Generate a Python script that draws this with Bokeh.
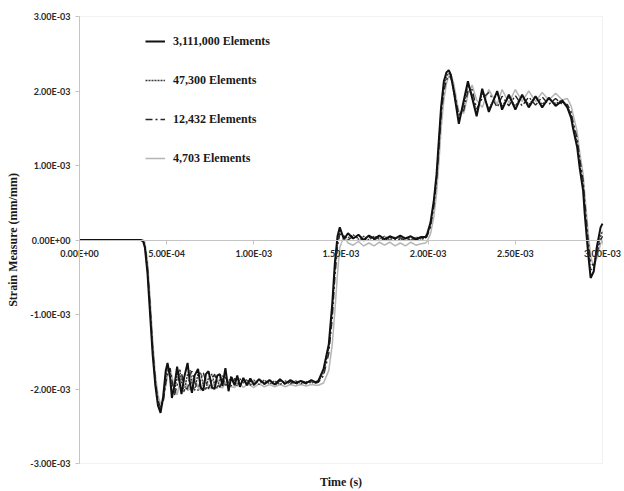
import numpy as np
from bokeh.plotting import figure
from bokeh.models import (Range1d, FixedTicker, CustomJSTickFormatter, Legend, LegendItem,
                          Label, BoxAnnotation)
from bokeh.embed import file_html
from bokeh.resources import INLINE

TIME_UNIT = 1e-4     # time values below are in units of 1e-4 s
STRAIN_UNIT = 1e-3   # strain values below are in units of 1e-3 mm/mm

time_e4 = [0, 1, 2, 3, 3.5, 3.65, 3.75, 3.9, 4.05, 4.2,
           4.35, 4.5, 4.65, 4.8, 4.95, 5.05, 5.2, 5.3, 5.45, 5.6,
           5.75, 5.85, 6.0, 6.2, 6.35, 6.45, 6.6, 6.8, 6.95, 7.1,
           7.25, 7.4, 7.6, 7.75, 7.9, 8.05, 8.2, 8.37, 8.55, 8.7,
           8.9, 9.05, 9.2, 9.4, 9.6, 9.8, 10.0, 10.3, 10.6, 10.9,
           11.2, 11.5, 11.8, 12.1, 12.4, 12.7, 13.0, 13.3, 13.55, 13.7,
           14.0, 14.3, 14.5, 14.65, 14.8, 14.93, 15.17, 15.4, 15.7, 16.0,
           16.3, 16.6, 16.9, 17.2, 17.5, 17.8, 18.1, 18.4, 18.7, 19.0,
           19.3, 19.6, 19.85, 19.94, 20.13, 20.32, 20.48, 20.61, 20.74, 20.9,
           21.05, 21.18, 21.3, 21.47, 21.76, 22.04, 22.28, 22.52, 22.78, 23.1,
           23.48, 23.96, 24.24, 24.63, 25.0, 25.39, 25.77, 26.16, 26.54, 26.92,
           27.31, 27.69, 27.98, 28.2, 28.3, 28.55, 28.69, 28.89, 28.98, 29.18,
           29.32, 29.5, 29.67, 29.89, 30.0]

strain_3111000 = [0, 0, 0, 0, 0, -0.02, -0.10, -0.45, -1.00, -1.55,
                  -1.95, -2.22, -2.32, -2.10, -1.75, -1.65, -1.85, -2.12, -1.95, -1.70,
                  -1.92, -2.07, -1.85, -1.65, -1.95, -2.05, -1.82, -1.73, -1.98, -2.02,
                  -1.80, -1.76, -1.98, -2.00, -1.82, -1.80, -1.96, -1.72, -2.03, -1.84,
                  -1.95, -1.82, -1.97, -1.85, -1.95, -1.86, -1.94, -1.87, -1.93, -1.88,
                  -1.94, -1.87, -1.93, -1.88, -1.92, -1.89, -1.92, -1.88, -1.91, -1.89,
                  -1.73, -1.40, -0.85, -0.30, 0.05, 0.17, 0.01, 0.09, 0.02, 0.07,
                  0.00, 0.06, 0.02, 0.06, 0.01, 0.05, 0.02, 0.06, 0.02, 0.05,
                  0.01, 0.04, 0.04, 0.08, 0.23, 0.52, 0.88, 1.33, 1.78, 2.13,
                  2.25, 2.28, 2.22, 2.00, 1.56, 1.87, 2.13, 1.91, 1.66, 2.03,
                  1.72, 2.00, 1.75, 1.95, 1.75, 1.95, 1.78, 1.93, 1.78, 1.91,
                  1.80, 1.87, 1.78, 1.64, 1.51, 1.24, 0.97, 0.66, 0.35, -0.19,
                  -0.51, -0.42, -0.10, 0.17, 0.22]

strain_47300 = [0, 0, 0, 0, 0, -0.01, -0.08, -0.40, -0.95, -1.50,
                -1.92, -2.18, -2.28, -2.15, -1.85, -1.72, -1.78, -2.02, -2.05, -1.80,
                -1.74, -1.90, -2.04, -1.80, -1.75, -1.92, -2.02, -1.80, -1.78, -1.95,
                -2.01, -1.85, -1.80, -1.94, -1.99, -1.86, -1.82, -1.96, -1.90, -1.83,
                -1.90, -1.96, -1.86, -1.92, -1.87, -1.95, -1.88, -1.94, -1.88, -1.93,
                -1.89, -1.94, -1.89, -1.93, -1.89, -1.93, -1.90, -1.92, -1.90, -1.90,
                -1.78, -1.45, -0.95, -0.40, -0.02, 0.12, 0.04, 0.03, 0.07, 0.01,
                0.05, 0.00, 0.05, 0.01, 0.05, 0.00, 0.04, 0.00, 0.04, 0.00,
                0.04, 0.01, 0.03, 0.06, 0.20, 0.48, 0.84, 1.28, 1.72, 2.06,
                2.20, 2.24, 2.20, 1.98, 1.62, 1.82, 2.08, 1.95, 1.70, 1.98,
                1.76, 1.97, 1.80, 1.92, 1.80, 1.93, 1.82, 1.92, 1.82, 1.90,
                1.83, 1.88, 1.80, 1.68, 1.55, 1.30, 1.02, 0.72, 0.42, -0.10,
                -0.40, -0.38, -0.15, 0.05, 0.12]

strain_12432 = [0, 0, 0, 0, 0, -0.01, -0.06, -0.35, -0.88, -1.45,
                -1.88, -2.15, -2.25, -2.18, -1.92, -1.78, -1.72, -1.88, -2.08, -1.95,
                -1.75, -1.78, -1.98, -2.00, -1.80, -1.76, -1.90, -2.02, -1.86, -1.78,
                -1.90, -2.00, -1.88, -1.80, -1.92, -1.98, -1.87, -1.84, -1.93, -1.96,
                -1.86, -1.88, -1.94, -1.88, -1.92, -1.90, -1.95, -1.88, -1.94, -1.89,
                -1.95, -1.89, -1.94, -1.90, -1.94, -1.90, -1.93, -1.90, -1.92, -1.91,
                -1.82, -1.52, -1.05, -0.50, -0.08, 0.08, 0.06, 0.00, 0.05, 0.03,
                -0.01, 0.04, 0.00, 0.04, -0.01, 0.04, 0.00, 0.03, -0.01, 0.03,
                0.00, 0.02, 0.02, 0.05, 0.17, 0.44, 0.80, 1.22, 1.66, 2.00,
                2.15, 2.20, 2.18, 2.02, 1.68, 1.74, 2.00, 2.02, 1.76, 1.90,
                1.98, 1.78, 1.93, 1.80, 1.94, 1.80, 1.92, 1.81, 1.92, 1.82,
                1.90, 1.82, 1.82, 1.72, 1.60, 1.36, 1.10, 0.80, 0.52, 0.00,
                -0.30, -0.35, -0.18, 0.00, 0.05]

strain_4703 = [0, 0, 0, 0, 0, 0.00, -0.03, -0.28, -0.78, -1.35,
               -1.80, -2.08, -2.20, -2.15, -1.95, -1.82, -1.75, -1.82, -2.00, -2.08,
               -1.92, -1.82, -1.85, -2.02, -2.00, -1.88, -1.84, -1.98, -2.02, -1.90,
               -1.86, -1.96, -2.00, -1.90, -1.88, -1.96, -1.99, -1.91, -1.90, -1.97,
               -1.98, -1.92, -1.93, -1.98, -1.94, -1.95, -1.98, -1.93, -1.97, -1.94,
               -1.97, -1.94, -1.97, -1.94, -1.96, -1.94, -1.96, -1.94, -1.95, -1.95,
               -1.92, -1.75, -1.40, -0.95, -0.45, -0.10, 0.05, -0.04, -0.07, -0.02,
               -0.08, -0.04, -0.08, -0.03, -0.07, -0.03, -0.08, -0.04, -0.08, -0.03,
               -0.07, -0.05, -0.04, -0.02, 0.08, 0.30, 0.62, 1.02, 1.48, 1.88,
               2.10, 2.20, 2.22, 2.10, 1.72, 1.70, 1.95, 2.08, 1.88, 1.78,
               2.02, 1.82, 2.02, 1.84, 2.02, 1.86, 2.00, 1.86, 1.98, 1.88,
               1.97, 1.88, 1.90, 1.80, 1.70, 1.45, 1.18, 0.88, 0.62, 0.10,
               -0.22, -0.36, -0.25, -0.05, 0.00]

series_names = ["3,111,000 Elements", "47,300 Elements", "12,432 Elements", "4,703 Elements"]

x_ticks = [0.0, 0.0005, 0.001, 0.0015, 0.002, 0.0025, 0.003]
x_tick_labels = ["0.00E+00", "5.00E-04", "1.00E-03", "1.50E-03", "2.00E-03", "2.50E-03", "3.00E-03"]
y_ticks = [-0.003, -0.002, -0.001, 0.0, 0.001, 0.002, 0.003]
y_tick_labels = ["-3.00E-03", "-2.00E-03", "-1.00E-03", "0.00E+00", "1.00E-03", "2.00E-03", "3.00E-03"]
x_title = "Time (s)"
y_title = "Strain Measure (mm/mm)"

X_MIN, X_MAX = 0.0, 0.003
Y_MIN, Y_MAX = -0.003, 0.003

for s in (strain_3111000, strain_47300, strain_12432, strain_4703):
    assert len(s) == len(time_e4), (len(s), len(time_e4))

# ---- layout (pixels) ----
W, H = 624, 491
PL, PR, PT, PB = 79, 602, 16, 463   # plot-area box in canvas pixels
x_per_px = (X_MAX - X_MIN) / (PR - PL)
y_per_px = (Y_MAX - Y_MIN) / (PB - PT)
x_range = Range1d(X_MIN - PL * x_per_px, X_MAX + (W - PR) * x_per_px)
y_range = Range1d(Y_MIN - (H - PB) * y_per_px, Y_MAX + PT * y_per_px)

t = np.array(time_e4) * TIME_UNIT

p = figure(width=W, height=H, output_backend="svg", toolbar_location=None,
           x_range=x_range, y_range=y_range,
           min_border=0, min_border_left=0, min_border_right=0,
           min_border_top=0, min_border_bottom=0,
           background_fill_color="white", border_fill_color="white")
p.xgrid.visible = False
p.ygrid.visible = False
p.outline_line_color = None

# plot-area frame
p.add_layout(BoxAnnotation(left=X_MIN, right=X_MAX, bottom=Y_MIN, top=Y_MAX,
                           fill_alpha=0, line_color="#d4d4d4", line_width=1,
                           level="underlay"))

fmt_code = """
const s = tick.toExponential(2).toUpperCase();
const parts = s.split('E');
let e = parts[1];
const sign = e[0];
let d = e.slice(1);
if (d.length < 2) { d = '0' + d; }
return parts[0] + 'E' + sign + d;
"""

TICK_FONT = "Lato"
TICK_SIZE = "9px"
TICK_COLOR = "#2a2a2a"
AXIS_COLOR = "#c4c4c4"

xa = p.xaxis[0]
xa.ticker = FixedTicker(ticks=x_ticks)
xa.formatter = CustomJSTickFormatter(code=fmt_code)
xa.major_label_overrides = {k: v for k, v in zip(x_ticks, x_tick_labels)}
xa.fixed_location = 0
xa.bounds = (X_MIN, X_MAX)
xa.axis_line_color = AXIS_COLOR
xa.major_tick_line_color = AXIS_COLOR
xa.major_tick_out = 4
xa.major_tick_in = 0
xa.minor_tick_line_color = None
xa.major_label_text_font = TICK_FONT
xa.major_label_text_font_style = "bold"
xa.major_label_text_font_size = TICK_SIZE
xa.major_label_text_color = TICK_COLOR
xa.major_label_standoff = 4

ya = p.yaxis[0]
ya.ticker = FixedTicker(ticks=y_ticks)
ya.formatter = CustomJSTickFormatter(code=fmt_code)
ya.major_label_overrides = {k: v for k, v in zip(y_ticks, y_tick_labels)}
ya.fixed_location = X_MIN
ya.bounds = (Y_MIN, Y_MAX)
ya.axis_line_color = AXIS_COLOR
ya.major_tick_line_color = AXIS_COLOR
ya.major_tick_out = 4
ya.major_tick_in = 0
ya.minor_tick_line_color = None
ya.major_label_text_font = TICK_FONT
ya.major_label_text_font_style = "bold"
ya.major_label_text_font_size = TICK_SIZE
ya.major_label_text_color = TICK_COLOR
ya.major_label_standoff = 5
ya.axis_label = y_title
ya.axis_label_text_font = "Liberation Serif"
ya.axis_label_text_font_style = "bold"
ya.axis_label_text_font_size = "12px"
ya.axis_label_text_color = "#1a1a1a"
ya.axis_label_standoff = 7

r4 = p.line(t, np.array(strain_4703) * STRAIN_UNIT, line_color="#b5b5b5", line_width=1.5)
r3 = p.line(t, np.array(strain_12432) * STRAIN_UNIT, line_color="#262626", line_width=1.4, line_dash="7 3 2 3")
r2 = p.line(t, np.array(strain_47300) * STRAIN_UNIT, line_color="#3a3a3a", line_width=1.4, line_dash="2 1")
r1 = p.line(t, np.array(strain_3111000) * STRAIN_UNIT, line_color="#111111", line_width=2.0)

legend = Legend(items=[LegendItem(label=series_names[0], renderers=[r1]),
                       LegendItem(label=series_names[1], renderers=[r2]),
                       LegendItem(label=series_names[2], renderers=[r3]),
                       LegendItem(label=series_names[3], renderers=[r4])],
                location=(145, 323), orientation="vertical",
                background_fill_alpha=0, border_line_color=None,
                padding=0, margin=0, spacing=19,
                glyph_width=20, glyph_height=20, label_height=20, label_standoff=8,
                label_text_font="Liberation Serif", label_text_font_style="bold",
                label_text_font_size="12px", label_text_color="#1a1a1a")
p.add_layout(legend)

xlabel = Label(x=(X_MIN + X_MAX) / 2, y=Y_MIN, y_offset=-18, text=x_title,
               text_align="center", text_baseline="middle",
               text_font="Liberation Serif", text_font_style="bold",
               text_font_size="12px", text_color="#1a1a1a")
p.add_layout(xlabel)

open("out.html", "w").write(file_html(p, INLINE))
